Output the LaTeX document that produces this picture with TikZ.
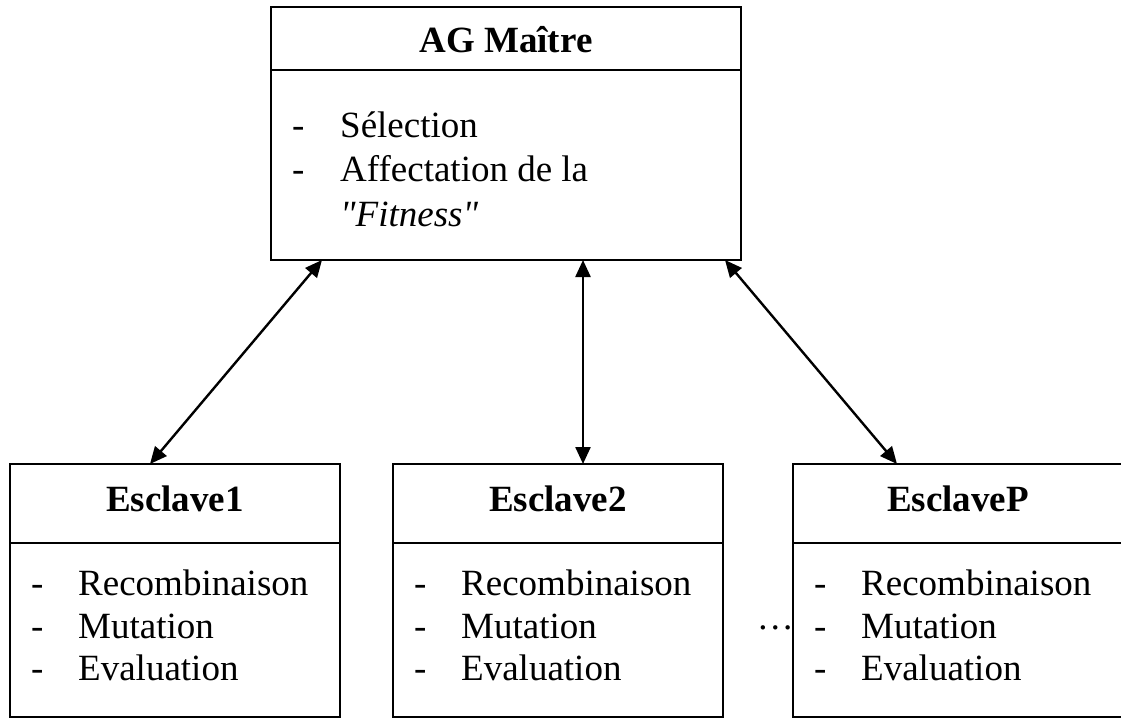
\documentclass[tikz,border=0pt]{standalone}
\usepackage{fontspec}
\setmainfont{Liberation Serif}[Ligatures=TeXOff]
\usetikzlibrary{arrows.meta,calc}
\tikzset{
  box/.style={draw, line width=2pt, minimum width=330pt, minimum height=253pt,
    anchor=north west, inner sep=0pt, outer sep=0pt},
  sep/.style={line width=2pt},
  ttl/.style={font=\fontsize{37}{44}\selectfont\bfseries, anchor=base, inner sep=0pt},
  item/.style={font=\fontsize{37}{44}\selectfont, anchor=base west, inner sep=0pt},
  link/.style={line width=2.4pt,
    {Triangle[length=17pt,width=15pt]}-{Triangle[length=17pt,width=15pt]}},
}
\begin{document}
\begin{tikzpicture}[x=1pt,y=-1pt]
\useasboundingbox (0,0) rectangle (1121,719);
\clip (0,0) rectangle (1121,719);

% master box
\node[box, minimum width=470pt] (m) at (271,7) {};
\draw[sep] ($(m.north west)+(0,63)$) -- ($(m.north east)+(0,63)$);
\node[ttl] (m-t) at ($(m.north)+(0,46)$) {AG Maître};
\node[item] (m-d1) at ($(m.north west)+(21,131)$) {-};
\node[item] (m-i1) at ($(m.north west)+(69,131)$) {Sélection};
\node[item] (m-d2) at ($(m.north west)+(21,175)$) {-};
\node[item] (m-i2) at ($(m.north west)+(69,175)$) {Affectation de la};
\node[item] (m-i3) at ($(m.north west)+(69,220)$) {\textit{"Fitness"}};

% slave boxes
\foreach \n/\x/\t in {e1/10/Esclave1, e2/393/Esclave2, ep/793/EsclaveP} {
  \node[box] (\n) at (\x,464) {};
  \draw[sep] ($(\n.north west)+(0,79)$) -- ($(\n.north east)+(0,79)$);
  \node[ttl] (\n-t) at ($(\n.north)+(0,47)$) {\t};
  \node[item] (\n-d1) at ($(\n.north west)+(21,131)$) {-};
  \node[item] (\n-i1) at ($(\n.north west)+(68,131)$) {Recombinaison};
  \node[item] (\n-d2) at ($(\n.north west)+(21,174)$) {-};
  \node[item] (\n-i2) at ($(\n.north west)+(68,174)$) {Mutation};
  \node[item] (\n-d3) at ($(\n.north west)+(21,216)$) {-};
  \node[item] (\n-i3) at ($(\n.north west)+(68,216)$) {Evaluation};
}

\node[item, anchor=base east] (dots) at ($(ep.north west)+(1,165)$) {…};

% links between master and slaves
\draw[link] ($(m.south west)+(51,0)$) -- ($(e1.north west)+(140,0)$);
\draw[link] ($(m.south west)+(312,0)$) -- ($(e2.north west)+(190,0)$);
\draw[link] ($(m.south west)+(454,0)$) -- ($(ep.north west)+(104,0)$);
\end{tikzpicture}
\end{document}
